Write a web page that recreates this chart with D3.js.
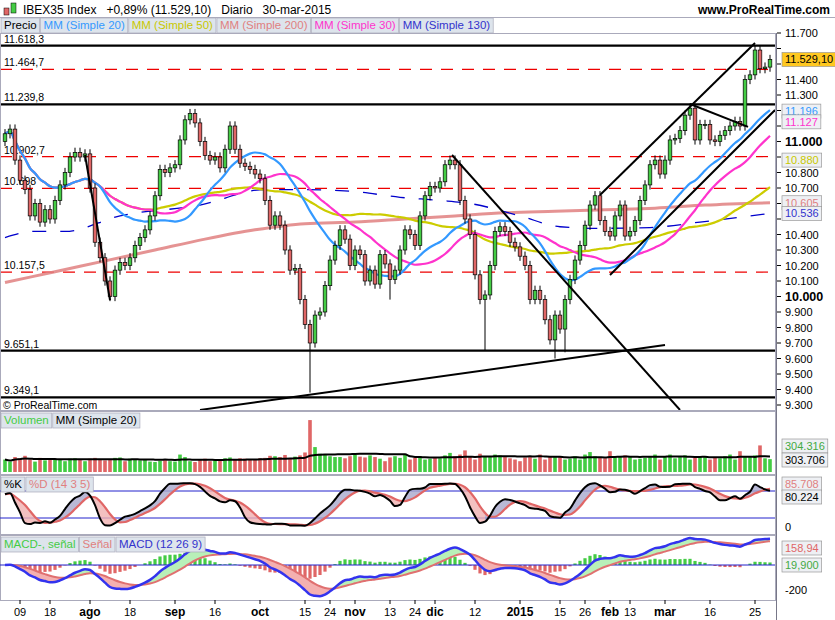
<!DOCTYPE html>
<html><head><meta charset="utf-8">
<script src="https://cdn.jsdelivr.net/npm/d3@7"></script>
<style>body{margin:0;background:#fff}svg{font-family:Arial,"Liberation Sans",sans-serif}</style>
</head><body><svg id="c" width="835" height="620"></svg>
<script>
// ---------- DATA ----------
const closes=[11050,11080,10880,10750,10690,10520,10600,10480,10560,10500,10620,10720,10800,10900,10930,10900,10920,10700,10350,10250,10100,10000,10170,10220,10200,10250,10330,10380,10430,10520,10650,10820,10800,10830,10850,11010,11140,11180,11120,11000,10910,10880,10900,10830,10950,11100,10950,10860,10840,10820,10790,10760,10620,10460,10520,10460,10300,10170,10180,9980,9820,9700,9880,9900,10070,10235,10330,10430,10370,10200,10300,10270,10100,10170,10080,10270,10210,10110,10170,10300,10430,10400,10330,10520,10650,10710,10700,10740,10850,10880,10850,10620,10500,10400,10140,9980,10010,10200,10420,10450,10420,10350,10320,10260,10200,9980,10040,9980,9850,9720,9880,9790,9980,10110,10235,10330,10460,10590,10650,10490,10420,10390,10520,10590,10390,10420,10490,10620,10720,10850,10880,10790,10880,11010,11020,11070,11170,11215,11010,11110,11110,11010,11000,11040,11070,11100,11130,11100,11400,11430,11590,11470,11480,11529];
const firstOpen=11000;
const lowOverIdx=[61,96,110,77,112];
const lowOverVal=[9380,9650,9600,9980,9640];
const volume=[300,250,360,330,390,300,250,340,280,310,300,290,260,320,330,300,260,320,340,300,280,310,340,350,260,320,300,280,300,250,240,270,300,260,250,420,360,260,240,300,320,260,280,300,330,350,300,330,320,300,290,330,340,390,380,360,410,330,370,400,470,1250,600,440,420,380,360,360,330,380,420,370,350,400,360,320,260,350,380,340,420,300,340,380,300,320,360,330,400,460,380,420,520,380,300,440,380,360,420,400,360,330,300,260,350,380,320,420,300,380,360,360,300,320,380,300,420,480,380,360,330,500,350,380,400,360,300,320,340,380,420,300,380,420,330,360,400,300,340,360,380,300,350,330,380,420,300,500,370,360,400,640,330,310];
const ma200Idx=[0,10,20,30,40,50,60,70,80,90,100,110,120,130,140,153];
const ma200Val=[10090,10160,10230,10300,10370,10430,10470,10480,10500,10520,10540,10550,10560,10570,10590,10605];
const ma130Idx=[0,6,12,23,39,52,59,69,79,87,93,103,111,119,129,139,153];
const ma130Val=[10380,10420,10420,10520,10590,10690,10690,10680,10640,10620,10600,10520,10450,10440,10445,10480,10536];
const hLevels=[11618.3,11239.8,9651.1,9349.1];
const hLabels=["11.618,3","11.239,8","9.651,1","9.349,1"];
const dLevels=[11464.7,10902.7,10698,10157.5];
const dLabels=["11.464,7","10.902,7","10.698","10.157,5"];
const trendLines=[[16,10913,21,9977],[89.4,10913,135,9268],[39,9268,132,9687],[119,10655,150,11635],[121,10139,154,11203],[137,11242,148.6,11094]];
const tickIdx=[3,9,17,25,34,42,51,60,65,70,77,82,86,94,103,111,116,121,125,132,141,150];
const tickLab=["09","18","ago","18","sep","16","oct","15","24","nov","13","24","dic","12","2015","15","26","feb","13","mar","16","25"];
const boldTicks=["ago","sep","oct","nov","dic","2015","feb","mar"];
const tagVals=[11529.1,11196,11127,10880,10605,10536];
const tagTexts=["11.529,10","11.196","11.127","10.880","10.605","10.536"];
const tagCols=["#000","#3399ff","#ff33cc","#c8c800","#e08080","#3333cc"];
const titleParts=["IBEX35 Index","+0,89% (11.529,10)","Diario","30-mar-2015"];
// ---------- DERIVED ----------
const N=closes.length;
const opens=closes.map((c,i)=>i?closes[i-1]:firstOpen);
const highs=closes.map((c,i)=>Math.max(c,opens[i])+30);
const lows=closes.map((c,i)=>Math.min(c,opens[i])-30);
lowOverIdx.forEach((ix,k)=>lows[ix]=lowOverVal[k]);
const sma=(a,n)=>a.map((_,i)=>{const s=a.slice(Math.max(0,i-n+1),i+1);return d3.mean(s);});
const ema=(a,n)=>{const k=2/(n+1);let e=a[0];return a.map(v=>e=v*k+e*(1-k));};
const ma20=sma(closes,20),ma30=sma(closes,30),ma50=sma(closes,50);
const vma=sma(volume,20);
const rawK=closes.map((c,i)=>{const hh=d3.max(highs.slice(Math.max(0,i-13),i+1)),ll=d3.min(lows.slice(Math.max(0,i-13),i+1));return 100*(c-ll)/(hh-ll);});
const kS=sma(rawK,3),dS=sma(kS,5);
const e12=ema(closes,12),e26=ema(closes,26);
const macd=e12.map((v,i)=>v-e26[i]);
const sig=ema(macd,9);const hist=macd.map((v,i)=>v-sig[i]);

const loc=d3.formatLocale({decimal:",",thousands:".",grouping:[3],currency:["",""]});
const f0=loc.format(",.0f");
const svg=d3.select("#c");
const W=775;
const x=d3.scaleLinear().domain([-1,154]).range([0,W]);
const yP=d3.scaleLinear().domain([9300,11700]).range([405,33]);
const yV=d3.scaleLinear().domain([0,1300]).range([472,418]);
const yS=d3.scaleLinear().domain([0,100]).range([527,482]);
const yM=d3.scaleLinear().domain([-280,280]).range([600,530]);

svg.append("rect").attr("width",835).attr("height",620).attr("fill","#fff");
svg.append("rect").attr("x",4).attr("y",8).attr("width",5).attr("height",7).attr("fill","#e06666").attr("stroke","#000").attr("stroke-width",.5);
svg.append("rect").attr("x",11).attr("y",3).attr("width",5).attr("height",10).attr("fill","#44cc44").attr("stroke","#000").attr("stroke-width",.5);
let tx0=23;titleParts.forEach(t=>{const n=svg.append("text").attr("x",tx0).attr("y",14).attr("font-size",12).text(t);tx0+=n.node().getComputedTextLength()+10;});
svg.append("text").attr("x",830).attr("y",14).attr("text-anchor","end").attr("font-size",12).attr("font-weight","bold").text("www.ProRealTime.com");
svg.append("line").attr("x1",0).attr("x2",835).attr("y1",17.5).attr("y2",17.5).attr("stroke","#aab");
function legend(y,items){let cx=1;items.forEach(([t,col])=>{const r=svg.append("rect");const tx=svg.append("text").attr("x",cx+3).attr("y",y+11).attr("font-size",11.5).attr("fill",col).text(t);const w=tx.node().getComputedTextLength()+6;r.attr("x",cx).attr("y",y).attr("width",w).attr("height",15).attr("fill","#dde4ec").attr("stroke","#aab").attr("stroke-width",.7);cx+=w+1;});}
legend(18,[["Precio","#000"],["MM (Simple 20)","#3399ff"],["MM (Simple 50)","#c8c800"],["MM (Simple 200)","#e08080"],["MM (Simple 30)","#ff33cc"],["MM (Simple 130)","#3333cc"]]);

const defs=svg.append("defs");
defs.append("clipPath").attr("id","cp").append("rect").attr("x",0).attr("y",34).attr("width",W).attr("height",376);
const gP=svg.append("g").attr("clip-path","url(#cp)");
dLevels.forEach((v,i)=>{gP.append("line").attr("x1",0).attr("x2",W).attr("y1",yP(v)).attr("y2",yP(v)).attr("stroke","#e00").attr("stroke-dasharray","12,9").attr("stroke-width",1.2);
 gP.append("text").attr("x",4).attr("y",yP(v)-3).attr("font-size",10.5).text(dLabels[i]);});
hLevels.forEach((v,i)=>{gP.append("line").attr("x1",0).attr("x2",W).attr("y1",yP(v)).attr("y2",yP(v)).attr("stroke","#000").attr("stroke-width",2.2);
 gP.append("text").attr("x",4).attr("y",yP(v)-3).attr("font-size",10.5).text(hLabels[i]);});
const ln=(ys,arr,ix)=>d3.line().x((d,i)=>x(ix?ix[i]:i)).y(d=>ys(d)).curve(d3.curveMonotoneX)(arr);
gP.append("path").attr("d",ln(yP,ma200Val,ma200Idx)).attr("fill","none").attr("stroke","#e08080").attr("stroke-width",3).attr("opacity",.85);
gP.append("path").attr("d",ln(yP,ma130Val,ma130Idx)).attr("fill","none").attr("stroke","#0000cc").attr("stroke-width",1.3).attr("stroke-dasharray","14,14");
gP.append("path").attr("d",ln(yP,ma50)).attr("fill","none").attr("stroke","#cccc00").attr("stroke-width",2.2);
gP.append("path").attr("d",ln(yP,ma30)).attr("fill","none").attr("stroke","#ff33cc").attr("stroke-width",2.2);
gP.append("path").attr("d",ln(yP,ma20)).attr("fill","none").attr("stroke","#3399ff").attr("stroke-width",2.2);
closes.forEach((c,i)=>{const o=opens[i],up=c>=o,cx=x(i);
 gP.append("line").attr("x1",cx).attr("x2",cx).attr("y1",yP(highs[i])).attr("y2",yP(lows[i])).attr("stroke","#000");
 gP.append("rect").attr("x",cx-1.8).attr("width",3.6).attr("y",yP(Math.max(o,c))).attr("height",Math.max(1,Math.abs(yP(o)-yP(c)))).attr("fill",up?"#44cc44":"#e06666").attr("stroke","#000").attr("stroke-width",.7);});
trendLines.forEach(t=>gP.append("line").attr("x1",x(t[0])).attr("y1",yP(t[1])).attr("x2",x(t[2])).attr("y2",yP(t[3])).attr("stroke","#000").attr("stroke-width",2));
svg.append("text").attr("x",3).attr("y",409).attr("font-size",10.5).text("© ProRealTime.com");

[[33,410],[411,474],[475,534],[535,600]].forEach(([a,b])=>svg.append("rect").attr("x",0.5).attr("y",a+.5).attr("width",W).attr("height",b-a).attr("fill","none").attr("stroke","#aab"));

volume.forEach((v,i)=>svg.append("rect").attr("x",x(i)-1.8).attr("width",3.6).attr("y",yV(v)).attr("height",yV(0)-yV(v)).attr("fill",closes[i]>=opens[i]?"#44cc44":"#e06666"));
svg.append("path").attr("d",ln(yV,vma)).attr("fill","none").attr("stroke","#000").attr("stroke-width",2);
legend(413,[["Volumen","#44cc44"],["MM (Simple 20)","#000"]]);

[80,20].forEach(v=>svg.append("line").attr("x1",0).attr("x2",W).attr("y1",yS(v)).attr("y2",yS(v)).attr("stroke","#2222cc"));
for(let i=1;i<N;i++){const up=kS[i]>=dS[i];svg.append("path").attr("d",`M${x(i-1)},${yS(kS[i-1])}L${x(i)},${yS(kS[i])}L${x(i)},${yS(dS[i])}L${x(i-1)},${yS(dS[i-1])}Z`).attr("fill",up?"#a8a8cc":"#f0b0b0").attr("opacity",.8);}
svg.append("path").attr("d",ln(yS,dS)).attr("fill","none").attr("stroke","#e06666").attr("stroke-width",2.2);
svg.append("path").attr("d",ln(yS,kS)).attr("fill","none").attr("stroke","#000").attr("stroke-width",2);
legend(477,[["%K","#000"],["%D (14 3 5)","#e08080"]]);

hist.forEach((h,i)=>svg.append("rect").attr("x",x(i)-1.6).attr("width",3.2).attr("y",Math.min(yM(h),yM(0))).attr("height",Math.abs(yM(h)-yM(0))).attr("fill",h>=0?"#44cc44":"#e06666"));
svg.append("line").attr("x1",0).attr("x2",W).attr("y1",yM(0)).attr("y2",yM(0)).attr("stroke","#2222cc");
for(let i=1;i<N;i++){const up=macd[i]>=sig[i];svg.append("path").attr("d",`M${x(i-1)},${yM(macd[i-1])}L${x(i)},${yM(macd[i])}L${x(i)},${yM(sig[i])}L${x(i-1)},${yM(sig[i-1])}Z`).attr("fill",up?"#b8f0b8":"#f4b0b0");}
svg.append("path").attr("d",ln(yM,sig)).attr("fill","none").attr("stroke","#e07070").attr("stroke-width",2);
svg.append("path").attr("d",ln(yM,macd)).attr("fill","none").attr("stroke","#3333ee").attr("stroke-width",2.5);
legend(537,[["MACD-, señal","#44cc44"],["Señal","#e08080"],["MACD (12 26 9)","#3333cc"]]);

svg.append("line").attr("x1",776.5).attr("x2",776.5).attr("y1",33).attr("y2",620).attr("stroke","#778");
const tagY=tagVals.map(v=>yP(v));
d3.range(9300,11701,100).forEach(v=>{const y=yP(v),b=(v%1000===0);svg.append("line").attr("x1",777).attr("x2",781).attr("y1",y).attr("y2",y).attr("stroke","#000");
 if(tagY.some(t=>Math.abs(t-y)<11))return;
 svg.append("text").attr("x",785).attr("y",y+4).attr("font-size",b?12.5:11).attr("font-weight",b?"bold":"normal").text(f0(v));});
function tag(y,txt,col,bg){const r=svg.append("rect");const t=svg.append("text").attr("x",785).attr("y",y+4).attr("font-size",11).attr("fill",col).text(txt);const w=t.node().getComputedTextLength()+6;r.attr("x",782).attr("y",y-7).attr("width",w).attr("height",14).attr("fill",bg).attr("stroke","#999").attr("stroke-width",.7);}
tagVals.forEach((v,i)=>tag(yP(v),tagTexts[i],tagCols[i],i?"#eef0f4":"#ffc820"));
tag(446,"304.316","#44aa44","#eef0f4");tag(460,"303.706","#000","#eef0f4");
tag(484,"85.708","#e08080","#eef0f4");tag(497,"80.224","#000","#eef0f4");
svg.append("text").attr("x",785).attr("y",531).attr("font-size",11).text("0");
tag(548,"158,94","#e06666","#eef0f4");tag(565,"19,900","#44aa44","#eef0f4");
svg.append("text").attr("x",785).attr("y",594).attr("font-size",11).text("-200");
tickIdx.forEach((t,i)=>{const b=boldTicks.includes(tickLab[i]);svg.append("line").attr("x1",x(t)).attr("x2",x(t)).attr("y1",600).attr("y2",604).attr("stroke","#000");
 svg.append("text").attr("x",x(t)).attr("y",616).attr("text-anchor","middle").attr("font-size",b?12:11).attr("font-weight",b?"bold":"normal").text(tickLab[i]);});
</script></body></html>
